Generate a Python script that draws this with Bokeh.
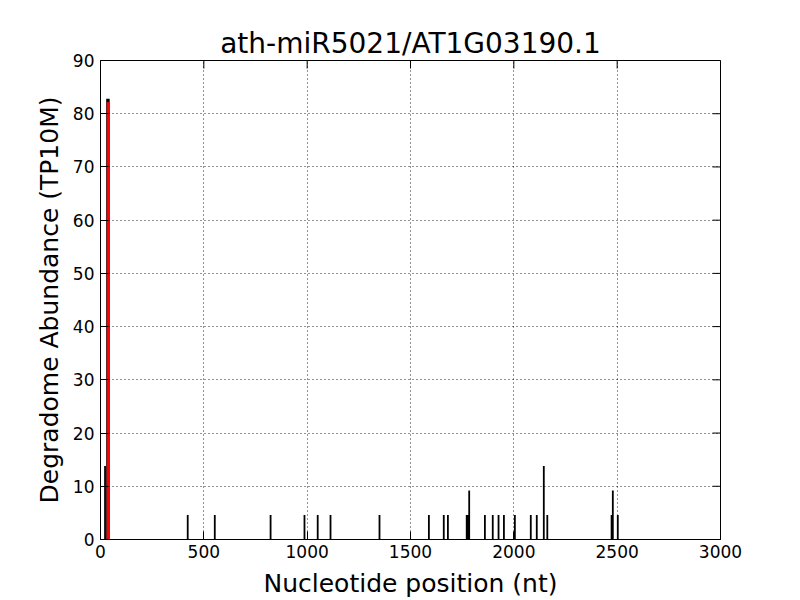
import math
from bokeh.plotting import figure
from bokeh.models import Range1d, FixedTicker
from bokeh.embed import file_html
from bokeh.resources import INLINE

# Degradome read positions (nt) and abundances (TP10M)
positions = [22, 422, 553, 823, 987, 1051, 1113, 1350, 1589, 1661, 1681,
             1772, 1776, 1780, 1784, 1860, 1898, 1926, 1952, 2005, 2082,
             2111, 2145, 2162, 2473, 2479, 2503]
abundance = [13.8, 4.6, 4.6, 4.6, 4.6, 4.6, 4.6, 4.6, 4.6, 4.6, 4.6,
             4.6, 4.6, 4.6, 9.2, 4.6, 4.6, 4.6, 4.6, 4.6, 4.6,
             4.6, 13.8, 4.6, 4.6, 9.2, 4.6]
# miRNA target site
target_position = [36]
target_abundance = [82.8]

x_ticks = [0, 500, 1000, 1500, 2000, 2500, 3000]
y_ticks = [0, 10, 20, 30, 40, 50, 60, 70, 80, 90]

title_text = "ath-miR5021/AT1G03190.1"
x_label = "Nucleotide position (nt)"
y_label = "Degradome Abundance (TP10M)"

FONT = "DejaVu Sans"

p = figure(width=790, height=600, output_backend="svg", toolbar_location=None,
           x_range=Range1d(0, 3000), y_range=Range1d(0, 90),
           min_border_left=100, min_border_right=70,
           min_border_top=60, min_border_bottom=60,
           background_fill_color="white", border_fill_color="white")

p.title.text = title_text
p.title.align = "center"
p.title.text_font = FONT
p.title.text_font_size = "28px"
p.title.text_font_style = "normal"
p.title.text_color = "black"
p.title.offset = 0
p.title.standoff = 2

p.outline_line_color = "black"
p.outline_line_width = 1
p.outline_line_alpha = 1

xt = FixedTicker(ticks=x_ticks)
yt = FixedTicker(ticks=y_ticks)
p.xaxis.ticker = xt
p.yaxis.ticker = yt

for ax in list(p.xaxis) + list(p.yaxis):
    ax.major_tick_in = 8
    ax.major_tick_out = 0
    ax.minor_tick_line_color = None
    ax.axis_line_color = "black"
    ax.major_tick_line_color = "black"
    ax.major_label_text_font = FONT
    ax.major_label_text_font_size = "17px"
    ax.major_label_text_color = "black"
    ax.axis_label_text_font = FONT
    ax.axis_label_text_font_size = "25px"
    ax.axis_label_text_font_style = "normal"
    ax.axis_label_text_color = "black"

p.xaxis.axis_label = x_label
p.yaxis.axis_label = y_label
p.xaxis.major_label_standoff = 5
p.yaxis.major_label_standoff = 6
p.xaxis.axis_label_standoff = 8
p.yaxis.axis_label_standoff = 6

p.grid.grid_line_color = "black"
p.grid.grid_line_dash = "1 3"
p.grid.grid_line_width = 1
p.grid.grid_line_alpha = 0.85
p.xgrid.ticker = xt
p.ygrid.ticker = yt

# mirrored inward ticks on top and right edges
p.ray(x=x_ticks, y=[90] * len(x_ticks), length=8, length_units="screen",
      angle=-math.pi / 2, line_color="black", line_width=1)
p.ray(x=[3000] * len(y_ticks), y=y_ticks, length=8, length_units="screen",
      angle=math.pi, line_color="black", line_width=1)

# degradome reads
p.segment(x0=positions, y0=[0] * len(positions), x1=positions, y1=abundance,
          line_color="black", line_width=1.8)
# target site bar (black) with red highlight
p.segment(x0=target_position, y0=[0], x1=target_position, y1=target_abundance,
          line_color="black", line_width=3.5)
p.segment(x0=target_position, y0=[0], x1=target_position,
          y1=[target_abundance[0] - 0.6],
          line_color="red", line_width=2.5)

open("out.html", "w").write(file_html(p, INLINE))
